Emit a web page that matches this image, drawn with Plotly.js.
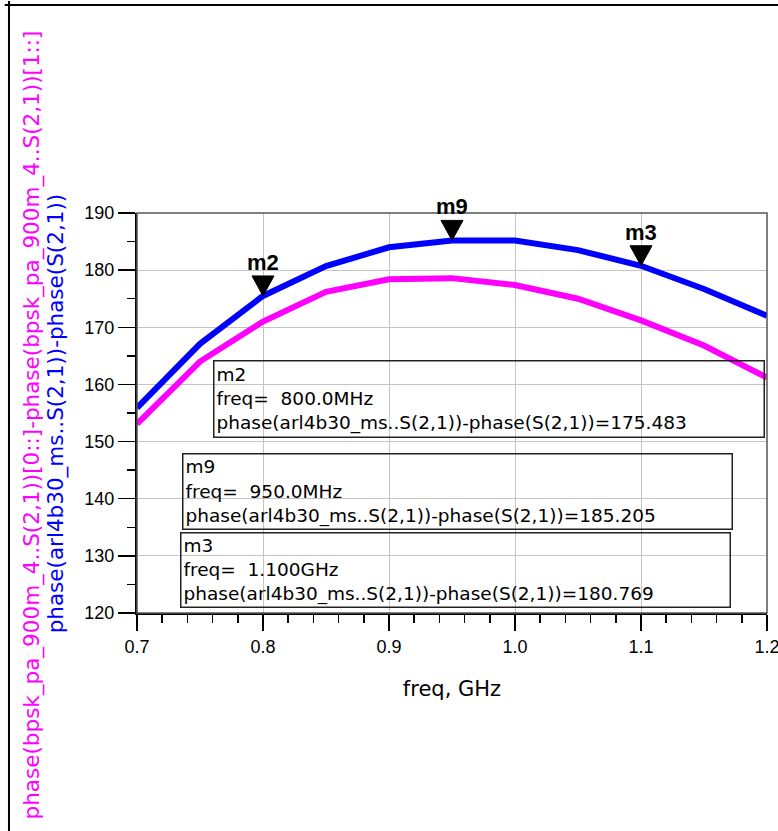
<!DOCTYPE html>
<html>
<head>
<meta charset="utf-8">
<script src="https://cdn.plot.ly/plotly-3.0.1.min.js"></script>
<style>
  html, body { margin: 0; padding: 0; background: #ffffff; }
  #chart { width: 778px; height: 831px; }
</style>
</head>
<body>
<div id="chart"></div>
<script>
// ---- data ----
const freqGHz = [0.70, 0.75, 0.80, 0.85, 0.90, 0.95, 1.00, 1.05, 1.10, 1.15, 1.20];
const phaseDiffArl = [155.9, 167.1, 175.483, 180.7, 184.0, 185.205, 185.2, 183.5, 180.769, 176.7, 172.0];
const phaseDiffBpsk = [153.1, 164.0, 171.0, 176.2, 178.4, 178.6, 177.4, 175.0, 171.2, 166.8, 161.2];

const markerNames = ['m2', 'm9', 'm3'];
const markerFreq = [0.80, 0.95, 1.10];
const markerVal = [175.483, 185.205, 180.769];

const xTickVals = [0.7, 0.8, 0.9, 1.0, 1.1, 1.2];
const yTickVals = [120, 130, 140, 150, 160, 170, 180, 190];

const blueTitle = 'phase(arl4b30_ms..S(2,1))-phase(S(2,1))';
const magentaTitle = 'phase(bpsk_pa_900m_4..S(2,1))[0::]-phase(bpsk_pa_900m_4..S(2,1))[1::]';
const xTitle = 'freq, GHz';

// ---- layout helpers (placement of readout boxes, in axis units) ----
const boxPos = [
  {x: 0.7603, y: 164.3, w: 545, h: 71},
  {x: 0.7357, y: 148.0, w: 544, h: 70},
  {x: 0.7341, y: 134.1, w: 544, h: 69}
];

function fmtFreq(f) {
  return f < 1 ? (f * 1000).toFixed(1) + 'MHz' : f.toFixed(3) + 'GHz';
}

const traces = [
  {
    x: freqGHz, y: phaseDiffBpsk, type: 'scatter', mode: 'lines',
    line: {color: '#ff00ff', width: 6}, hoverinfo: 'skip'
  },
  {
    x: freqGHz, y: phaseDiffArl, type: 'scatter', mode: 'lines',
    line: {color: '#0000ff', width: 6}, hoverinfo: 'skip'
  }
];

const shapes = [
  // plot frame
  {type: 'rect', xref: 'paper', yref: 'paper', x0: 0, x1: 1, y0: 0, y1: 1,
   line: {color: '#555555', width: 1.5}},
  // outer picture frame (left and top)
  {type: 'line', xref: 'paper', yref: 'paper', x0: -0.2032, x1: -0.2032, y0: -0.7, y1: 1.53,
   line: {color: '#000000', width: 2}},
  {type: 'line', xref: 'paper', yref: 'paper', x0: -0.21, x1: 1.1, y0: 1.52, y1: 1.52,
   line: {color: '#000000', width: 2}}
];

const annotations = [];

markerNames.forEach((name, i) => {
  shapes.push({
    type: 'path', xref: 'x', yref: 'y',
    xsizemode: 'pixel', ysizemode: 'pixel',
    xanchor: markerFreq[i], yanchor: markerVal[i],
    path: 'M -11 20 L 11 20 L 0 0 Z',
    fillcolor: '#000000', line: {color: '#000000', width: 1}
  });
  annotations.push({
    x: markerFreq[i], y: markerVal[i], xref: 'x', yref: 'y',
    text: '<b>' + name + '</b>', showarrow: false,
    xanchor: 'center', yanchor: 'bottom', yshift: 19,
    font: {family: 'Liberation Sans, Arial, sans-serif', size: 22, color: '#000000'}
  });
  const b = boxPos[i];
  annotations.push({
    x: b.x, y: b.y, xref: 'x', yref: 'y',
    xanchor: 'left', yanchor: 'top', showarrow: false,
    align: 'left', valign: 'middle',
    width: b.w, height: b.h,
    bordercolor: '#222222', borderwidth: 1.5, borderpad: 2,
    bgcolor: 'rgba(255,255,255,0)',
    text: name + '<br>freq=\u00a0\u00a0' + fmtFreq(markerFreq[i]) + '<br>' +
          blueTitle + '=' + markerVal[i].toFixed(3),
    font: {family: 'DejaVu Sans, sans-serif', size: 18.5, color: '#000000'}
  });
});

// y-axis titles (two coloured lines)
annotations.push({
  xref: 'paper', yref: 'paper', x: -0.166, y: 0.47,
  xanchor: 'center', yanchor: 'middle', showarrow: false, textangle: -90,
  text: magentaTitle,
  font: {family: 'DejaVu Sans, sans-serif', size: 21.5, color: '#ff00ff'}
});
annotations.push({
  xref: 'paper', yref: 'paper', x: -0.128, y: 0.5,
  xanchor: 'center', yanchor: 'middle', showarrow: false, textangle: -90,
  text: blueTitle,
  font: {family: 'DejaVu Sans, sans-serif', size: 21.5, color: '#0000ff'}
});

const tickFont = {family: 'Liberation Sans, Arial, sans-serif', size: 18, color: '#000000'};

const layout = {
  width: 778, height: 831,
  margin: {l: 137, r: 11, t: 213, b: 218},
  paper_bgcolor: '#ffffff', plot_bgcolor: '#ffffff',
  showlegend: false,
  xaxis: {
    range: [0.7, 1.2], tickvals: xTickVals, tickformat: '.1f',
    ticks: 'outside', ticklen: 16, tickwidth: 1.5, tickcolor: '#000000',
    ticklabeloverflow: 'allow',
    showline: true, linecolor: '#000000', linewidth: 2,
    showgrid: true, gridcolor: '#c4c4c4', gridwidth: 1, zeroline: false,
    tickfont: tickFont,
    minor: {dtick: 0.02, ticks: 'outside', ticklen: 8, tickwidth: 1.5, tickcolor: '#000000', showgrid: false},
    title: {text: xTitle, standoff: 26,
            font: {family: 'DejaVu Sans, sans-serif', size: 21, color: '#000000'}}
  },
  yaxis: {
    range: [120, 190], tickvals: yTickVals,
    ticks: 'outside', ticklen: 17, tickwidth: 1.5, tickcolor: '#000000',
    ticklabeloverflow: 'allow',
    showline: true, linecolor: '#000000', linewidth: 2,
    showgrid: true, gridcolor: '#c4c4c4', gridwidth: 1, zeroline: false,
    tickfont: tickFont,
    minor: {dtick: 5, ticks: 'outside', ticklen: 8, tickwidth: 1.5, tickcolor: '#000000', showgrid: false}
  },
  shapes: shapes,
  annotations: annotations
};

Plotly.newPlot('chart', traces, layout, {staticPlot: true, displayModeBar: false});
</script>
</body>
</html>
